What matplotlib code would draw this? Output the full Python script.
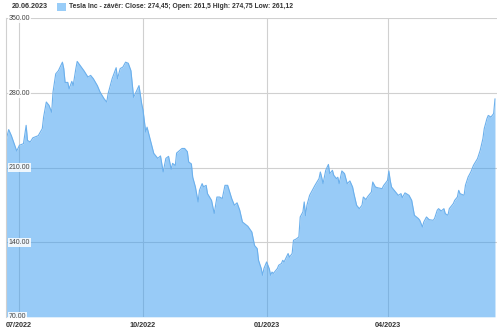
import pandas as pd
import matplotlib.pyplot as plt
from matplotlib.patches import Rectangle
from matplotlib.transforms import blended_transform_factory

START_DATE = "2022-06-21"

# days after START_DATE
day_offsets = [
    0, 2, 4, 7, 8, 10, 13, 15, 16, 18, 20, 24, 27, 28, 30, 32, 34, 35, 37, 39,
    42, 43, 44, 46, 47, 49, 50, 52, 53, 56, 58, 61, 63, 65, 68, 70, 73, 75, 76, 79,
    82, 83, 85, 87, 89, 91, 93, 95, 99, 101, 102, 104, 105, 107, 110, 113, 115, 117, 119, 121,
    123, 124, 126, 127, 131, 133, 135, 136, 138, 139, 141, 143, 144, 146, 147, 149, 150, 153, 155, 157,
    159, 161, 163, 165, 168, 170, 172, 174, 176, 179, 180, 183, 185, 187, 188, 190, 191, 192, 194, 196,
    197, 198, 199, 202, 203, 205, 206, 207, 210, 211, 213, 214, 216, 218, 219, 221, 222, 223, 224, 226,
    228, 230, 233, 234, 235, 236, 238, 240, 241, 243, 244, 246, 247, 248, 250, 252, 254, 256, 258, 259,
    261, 263, 265, 266, 268, 269, 272, 273, 275, 277, 280, 281, 284, 285, 286, 287, 289, 291, 292, 294,
    295, 297, 298, 300, 302, 304, 307, 308, 310, 311, 313, 315, 318, 319, 321, 322, 324, 326, 327, 329,
    330, 333, 334, 336, 337, 338, 341, 342, 344, 346, 348, 351, 353, 355, 356, 358, 359, 361, 363, 364,
]

close_prices = [
    235.6, 245.7, 240.0, 229.0, 225.6, 231.0, 232.5, 249.7, 235.6, 234.0, 238.0, 240.0, 246.6, 257.5, 271.6, 268.5, 262.0, 281.0, 298.0, 301.0,
    309.0, 303.0, 290.0, 290.0, 284.0, 291.0, 287.0, 303.0, 309.7, 304.4, 301.0, 295.0, 296.6, 293.5, 287.0, 281.0, 274.7, 271.6, 279.4, 293.5,
    303.8, 293.5, 303.0, 304.4, 309.0, 308.0, 301.0, 276.0, 287.0, 270.0, 264.0, 243.5, 248.0, 238.0, 223.4, 218.7, 221.0, 206.0, 218.7, 220.6,
    208.5, 214.0, 212.0, 223.7, 228.0, 228.0, 225.0, 215.3, 213.5, 201.0, 191.8, 177.8, 188.7, 195.0, 192.0, 193.4, 185.6, 179.3, 167.0, 182.4,
    182.4, 181.0, 193.4, 193.4, 181.0, 174.7, 177.0, 170.0, 159.0, 156.0, 155.0, 149.6, 137.0, 134.0, 123.0, 115.3, 109.0, 115.3, 121.5, 115.0,
    109.0, 112.0, 110.7, 115.3, 118.4, 120.0, 123.0, 121.5, 129.4, 126.0, 129.4, 141.8, 143.0, 145.0, 163.7, 168.4, 177.8, 165.0, 174.7, 184.0,
    188.7, 193.4, 199.7, 205.9, 201.0, 195.0, 207.5, 213.0, 204.4, 207.5, 202.8, 199.7, 201.0, 195.0, 206.9, 204.4, 195.0, 197.5, 191.8, 185.6,
    174.7, 171.5, 174.7, 182.4, 180.0, 182.4, 187.1, 196.5, 191.8, 191.0, 190.3, 193.0, 198.0, 206.9, 198.0, 191.8, 188.7, 185.6, 184.0, 185.6,
    181.9, 186.3, 185.6, 184.0, 179.3, 165.3, 162.2, 160.6, 154.3, 159.0, 163.7, 161.2, 160.6, 162.2, 170.0, 171.5, 169.3, 171.5, 166.8, 165.3,
    171.5, 176.3, 179.3, 182.4, 188.7, 185.6, 184.0, 193.4, 201.2, 205.9, 212.2, 218.5, 226.3, 237.2, 246.6, 256.0, 259.0, 257.5, 260.7, 274.45,
]

y_ticks = [70, 140, 210, 280, 350]
y_tick_labels = ["70.00", "140.00", "210.00", "280.00", "350.00"]
x_tick_dates = ["2022-07-01", "2022-10-01", "2023-01-01", "2023-04-01"]
x_tick_labels = ["07/2022", "10/2022", "01/2023", "04/2023"]

header_date = "20.06.2023"
legend_text = "Tesla Inc - závěr: Close: 274,45; Open: 261,5 High: 274,75 Low: 261,12"

FILL = "#3399f0"      # drawn at alpha 0.5 -> light blue over white
EDGE = "#6cb0ec"
GRID = "#d0d0d0"

plt.rcParams["font.family"] = ["Liberation Sans", "DejaVu Sans"]

dates = pd.Timestamp(START_DATE) + pd.to_timedelta(day_offsets, unit="D")

fig = plt.figure(figsize=(5, 3.3), dpi=100)
ax = fig.add_axes([0.012, 0.040, 0.982, 0.904])

# grid lines under the semi-transparent area
for yv in y_ticks[1:]:
    ax.axhline(yv, color=GRID, lw=0.8, zorder=0)
for d in x_tick_dates:
    ax.axvline(pd.Timestamp(d), color=GRID, lw=0.8, zorder=0)

ax.fill_between(dates, 70, close_prices, color=FILL, alpha=0.5, lw=0, zorder=1)
ax.plot(dates, close_prices, color=EDGE, lw=0.8, zorder=2)

ax.set_ylim(70, 350)
ax.set_xlim(dates[0], dates[-1] + pd.Timedelta(days=1.5))

ax.set_xticks([])
ax.set_yticks([])
for side in ["top", "right", "bottom"]:
    ax.spines[side].set_visible(False)
ax.spines["left"].set_color(GRID)
ax.spines["left"].set_linewidth(0.8)

# y labels inside the plot
ytrans = blended_transform_factory(ax.transAxes, ax.transData)
for yv, lab in zip(y_ticks, y_tick_labels):
    ax.text(0.006, yv, lab, transform=ytrans, fontsize=5.0, color="#444444",
            ha="left", va="center", zorder=5,
            bbox=dict(boxstyle="square,pad=0.15", fc="white", ec="none", alpha=0.85))

# x labels under the plot
xtrans = blended_transform_factory(ax.transData, ax.transAxes)
for i, (d, lab) in enumerate(zip(x_tick_dates, x_tick_labels)):
    if i == 0:
        ax.text(0.0, -0.028, lab, transform=ax.transAxes, fontsize=5.2, fontweight="bold",
                color="#333333", ha="left", va="center")
    else:
        ax.text(pd.Timestamp(d), -0.028, lab, transform=xtrans, fontsize=5.2, fontweight="bold",
                color="#333333", ha="center", va="center")

# header / legend
fig.text(12 / 500, 1 - 6.5 / 330, header_date, fontsize=5.2, fontweight="bold",
         color="#333333", ha="left", va="center")
fig.patches.append(Rectangle((57 / 500, 1 - 11 / 330), 9 / 500, 8 / 330,
                             transform=fig.transFigure, fc="#99cdf8", ec="none"))
fig.text(69 / 500, 1 - 6.5 / 330, legend_text, fontsize=4.85, fontweight="bold",
         color="#333333", ha="left", va="center")

plt.savefig("out.png", dpi=100)
